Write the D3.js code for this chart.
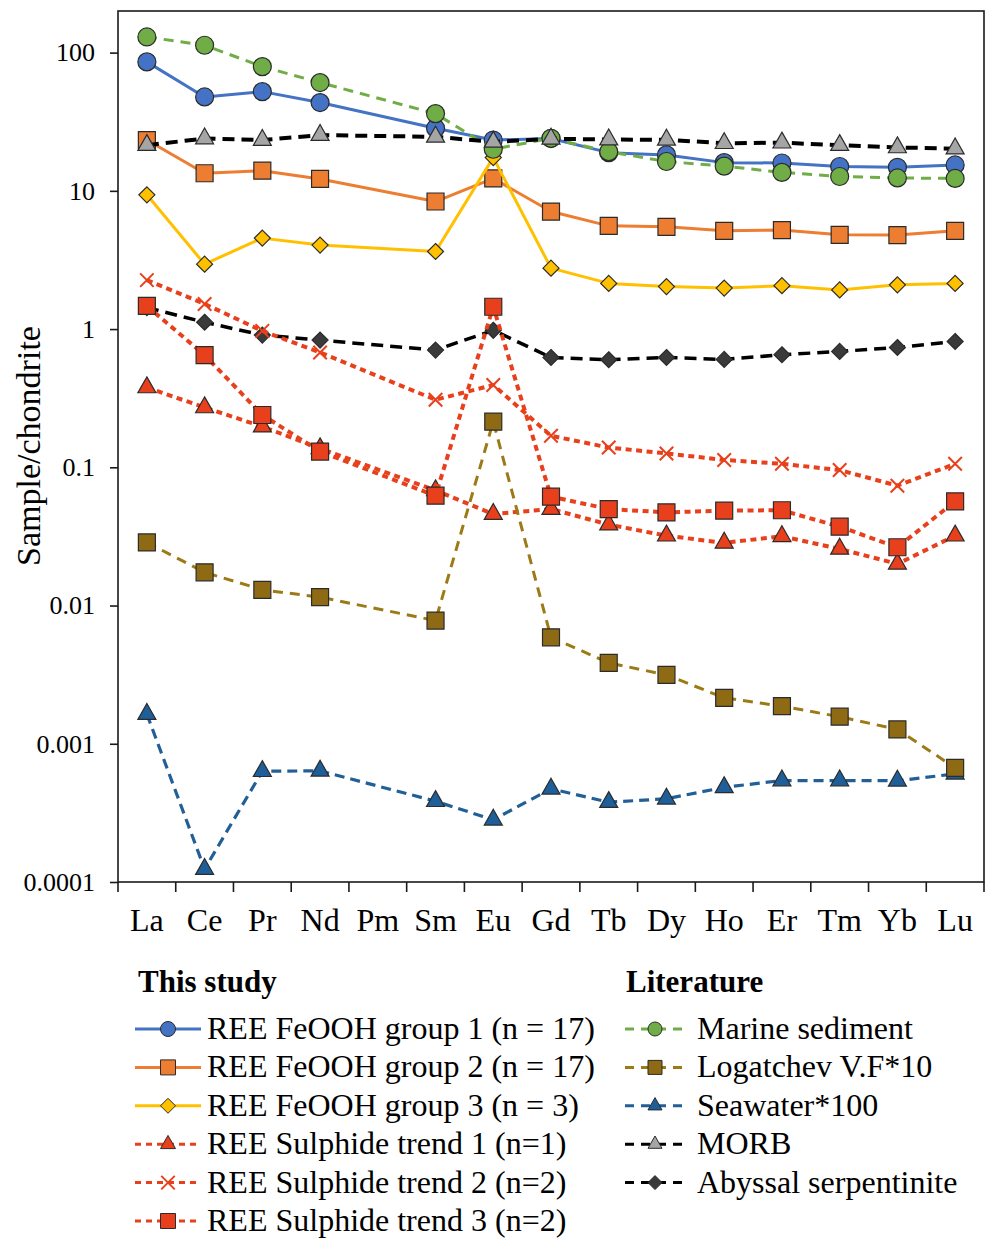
<!DOCTYPE html>
<meta charset="utf-8">
<head>
<style>
body { margin: 0; background: #fff; }
svg text { font-family: "Liberation Serif", "Times New Roman", serif; fill: #000; }
.axis path, .axis line { stroke: #1a1a1a; stroke-width: 1.6; }
.axis text { font-size: 26px; }
</style>
</head>
<body>
<svg width="988" height="1239"></svg>
<script src="https://cdn.jsdelivr.net/npm/d3@7"></script>
<script>

// REE elements (Pm has no data)
var elements = ["La","Ce","Pr","Nd","Pm","Sm","Eu","Gd","Tb","Dy","Ho","Er","Tm","Yb","Lu"];

var feoohG1   = [85.7, 47.8, 52.2, 43.5, null, 28.4, 23.3, 23.9, 18.9, 18.2, 16.0, 15.9, 15.0, 14.8, 15.4];
var feoohG2   = [23.3, 13.4, 14.0, 12.2, null, 8.37, 12.3, 7.08, 5.58, 5.49, 5.14, 5.20, 4.81, 4.79, 5.14];
var feoohG3   = [9.36, 2.95, 4.55, 4.05, null, 3.64, 17.4, 2.76, 2.14, 2.03, 1.98, 2.06, 1.92, 2.09, 2.14];
var sulph1    = [0.378, 0.271, 0.197, 0.137, null, 0.068, 0.0459, 0.0499, 0.0385, 0.0320, 0.0284, 0.0317, 0.0257, 0.0200, 0.0320];
var sulph2    = [2.26, 1.52, 0.97, 0.677, null, 0.308, 0.394, 0.169, 0.139, 0.126, 0.113, 0.106, 0.0955, 0.0736, 0.106];
var sulph3    = [1.47, 0.648, 0.239, 0.130, null, 0.0623, 1.45, 0.0613, 0.0499, 0.0472, 0.0486, 0.0489, 0.0372, 0.0264, 0.0567];
var marine    = [129.8, 113, 79.2, 60.7, null, 36.2, 20.0, 24.0, 19.2, 16.3, 15.1, 13.6, 12.7, 12.4, 12.3];
var logatchev = [0.0286, 0.0174, 0.0130, 0.0115, null, 0.00778, 0.214, 0.00589, 0.00385, 0.00315, 0.00215, 0.00187, 0.00157, 0.00127, 0.00067];
var seawater  = [0.00164, 0.000124, 0.000633, 0.000637, null, 0.000384, 0.000282, 0.000472, 0.000378, 0.000400, 0.000484, 0.000542, 0.000542, 0.000540, 0.000606];
var morb      = [21.4, 23.9, 23.3, 25.3, null, 24.6, 22.6, 23.8, 23.5, 23.4, 22.1, 22.3, 21.4, 20.6, 20.2];
var serpentinite = [1.43, 1.12, 0.905, 0.832, null, 0.705, 0.98, 0.623, 0.600, 0.623, 0.603, 0.652, 0.689, 0.736, 0.813];

var yTicks = [0.0001, 0.001, 0.01, 0.1, 1, 10, 100];
var yTickLabels = ["0.0001", "0.001", "0.01", "0.1", "1", "10", "100"];

var studyNames = ["REE FeOOH group 1 (n = 17)", "REE FeOOH group 2 (n = 17)", "REE FeOOH group 3 (n = 3)",
                  "REE Sulphide trend 1 (n=1)", "REE Sulphide trend 2 (n=2)", "REE Sulphide trend 3 (n=2)"];
var litNames = ["Marine sediment", "Logatchev V.F*10", "Seawater*100", "MORB", "Abyssal serpentinite"];

// styles
var red = "#e8401c";
var series = [
  {key: "g1",  name: studyNames[0], data: feoohG1, color: "#4472c4", fill: "#4472c4", sym: "circle", dash: null, w: 3, ldash: null},
  {key: "g2",  name: studyNames[1], data: feoohG2, color: "#ed7d31", fill: "#ed7d31", sym: "square", dash: null, w: 3, ldash: null},
  {key: "g3",  name: studyNames[2], data: feoohG3, color: "#ffc000", fill: "#ffc000", sym: "diamond", dash: null, w: 3, ldash: null},
  {key: "s1",  name: studyNames[3], data: sulph1, color: red, fill: red, sym: "triangle", dash: "6,4.5", w: 4, ldash: "6,5"},
  {key: "s2",  name: studyNames[4], data: sulph2, color: red, fill: "none", sym: "cross", dash: "6,4.5", w: 4, ldash: "6,5"},
  {key: "s3",  name: studyNames[5], data: sulph3, color: red, fill: red, sym: "square", dash: "6,4.5", w: 4, ldash: "6,5"},
  {key: "mar", name: litNames[0], data: marine, color: "#70ad47", fill: "#70ad47", sym: "circle", dash: "10,7", w: 3, ldash: "9,7"},
  {key: "log", name: litNames[1], data: logatchev, color: "#9c7a16", fill: "#8f6a14", sym: "square", dash: "10,7", w: 3, ldash: "9,7"},
  {key: "sea", name: litNames[2], data: seawater, color: "#225f96", fill: "#1f5f99", sym: "triangle", dash: "10,6", w: 3.2, ldash: "9,7"},
  {key: "morb", name: litNames[3], data: morb, color: "#000", fill: "#a5a5a5", sym: "triangle", dash: "12,7", w: 4, ldash: "9,7"},
  {key: "serp", name: litNames[4], data: serpentinite, color: "#000", fill: "#3a3a3a", sym: "diamond", dash: "12,7", w: 3.5, ldash: "9,7"}
];
var drawOrder = ["sea", "serp", "g1", "g2", "g3", "s1", "s2", "s3", "mar", "log", "morb"];

var svg = d3.select("svg");
var plotL = 118, plotR = 984, plotT = 11, plotB = 882;

var x = d3.scaleBand().domain(elements).range([plotL, plotR]).padding(0);
var y = d3.scaleLog().domain([0.0001, 200]).range([plotB, plotT]);

function cx(e) { return x(e) + x.bandwidth() / 2; }

function symbolPath(type, s) {
  // s = overall size in px
  var h = s / 2;
  if (type === "circle") {
    return "M" + (-h) + ",0A" + h + "," + h + " 0 1,1 " + h + ",0A" + h + "," + h + " 0 1,1 " + (-h) + ",0Z";
  }
  if (type === "square") {
    return "M" + (-h) + "," + (-h) + "H" + h + "V" + h + "H" + (-h) + "Z";
  }
  if (type === "diamond") {
    return "M0," + (-h) + "L" + h + ",0L0," + h + "L" + (-h) + ",0Z";
  }
  if (type === "triangle") {
    var th = s * 0.88;
    return "M0," + (-th * 2 / 3) + "L" + h + "," + (th / 3) + "L" + (-h) + "," + (th / 3) + "Z";
  }
  if (type === "cross") {
    var c = h * 0.9;
    return "M" + (-c) + "," + (-c) + "L" + c + "," + c + "M" + c + "," + (-c) + "L" + (-c) + "," + c;
  }
}
var symSize = {circle: 18, square: 17, diamond: 16, triangle: 18, cross: 15};

// frame
svg.append("rect")
  .attr("x", plotL).attr("y", plotT)
  .attr("width", plotR - plotL).attr("height", plotB - plotT)
  .attr("fill", "none").attr("stroke", "#1a1a1a").attr("stroke-width", 1.6);

// y axis
var yAxis = d3.axisLeft(y)
  .tickValues(yTicks)
  .tickFormat(function(d, i) { return yTickLabels[i]; })
  .tickSize(8).tickPadding(15);
svg.append("g").attr("class", "axis")
  .attr("transform", "translate(" + plotL + ",0)")
  .call(yAxis)
  .call(function(g) { g.select(".domain").remove(); });

// x axis: labels at band centres, ticks at band edges
var xAxis = d3.axisBottom(x).tickSize(0).tickPadding(26);
var xg = svg.append("g").attr("class", "axis")
  .attr("transform", "translate(0," + plotB + ")")
  .call(xAxis);
xg.select(".domain").remove();
xg.selectAll("text").style("font-size", "32px");

var edges = elements.map(function(e) { return x(e); }).concat([plotR]);
svg.append("g").selectAll("line")
  .data(edges).enter().append("line")
  .attr("x1", function(d) { return d; }).attr("x2", function(d) { return d; })
  .attr("y1", plotB).attr("y2", plotB + 10)
  .attr("stroke", "#1a1a1a").attr("stroke-width", 1.6);

// y title
svg.append("text")
  .attr("transform", "translate(40,446) rotate(-90)")
  .attr("text-anchor", "middle")
  .style("font-size", "34px")
  .text("Sample/chondrite");

// lines + markers
var line = d3.line()
  .x(function(d) { return cx(d.e); })
  .y(function(d) { return y(d.v); });

var byKey = {};
series.forEach(function(s) { byKey[s.key] = s; });

drawOrder.forEach(function(k) {
  var s = byKey[k];
  var pts = elements.map(function(e, i) { return {e: e, v: s.data[i]}; })
    .filter(function(d) { return d.v != null; });
  var g = svg.append("g").attr("class", "series-" + k);
  g.append("path")
    .attr("d", line(pts))
    .attr("fill", "none")
    .attr("stroke", s.color)
    .attr("stroke-width", s.w)
    .attr("stroke-dasharray", s.dash)
    .attr("stroke-linejoin", "round");
  g.selectAll("path.mk").data(pts).enter().append("path")
    .attr("class", "mk")
    .attr("transform", function(d) { return "translate(" + cx(d.e) + "," + y(d.v) + ")"; })
    .attr("d", symbolPath(s.sym, symSize[s.sym]))
    .attr("fill", s.fill)
    .attr("stroke", s.sym === "cross" ? s.color : "#2b2b2b")
    .attr("stroke-width", s.sym === "cross" ? 2 : 1.2);
});

// legend
function legendItem(g, s, x0, x1, xm, yc, size) {
  g.append("line")
    .attr("x1", x0).attr("x2", x1).attr("y1", yc).attr("y2", yc)
    .attr("stroke", s.color)
    .attr("stroke-width", 3)
    .attr("stroke-dasharray", s.ldash);
  g.append("path")
    .attr("transform", "translate(" + xm + "," + yc + ")")
    .attr("d", symbolPath(s.sym, size))
    .attr("fill", s.fill)
    .attr("stroke", s.sym === "cross" ? s.color : "#2b2b2b")
    .attr("stroke-width", s.sym === "cross" ? 2 : 1);
}

var leg = svg.append("g");
leg.append("text").attr("x", 138).attr("y", 992)
  .style("font-size", "31px").style("font-weight", "bold").text("This study");
leg.append("text").attr("x", 626).attr("y", 992)
  .style("font-size", "31px").style("font-weight", "bold").text("Literature");

var rowH = 38.4;
series.slice(0, 6).forEach(function(s, i) {
  var yc = 1029 + i * rowH;
  legendItem(leg, s, 135, 201, 168, yc, 15);
  leg.append("text").attr("x", 207).attr("y", yc + 10).style("font-size", "32px").text(s.name);
});
series.slice(6).forEach(function(s, i) {
  var yc = 1029 + i * rowH;
  legendItem(leg, s, 625, 689, 655, yc, 14);
  leg.append("text").attr("x", 697).attr("y", yc + 10).style("font-size", "32px").text(s.name);
});

</script>
</body>
